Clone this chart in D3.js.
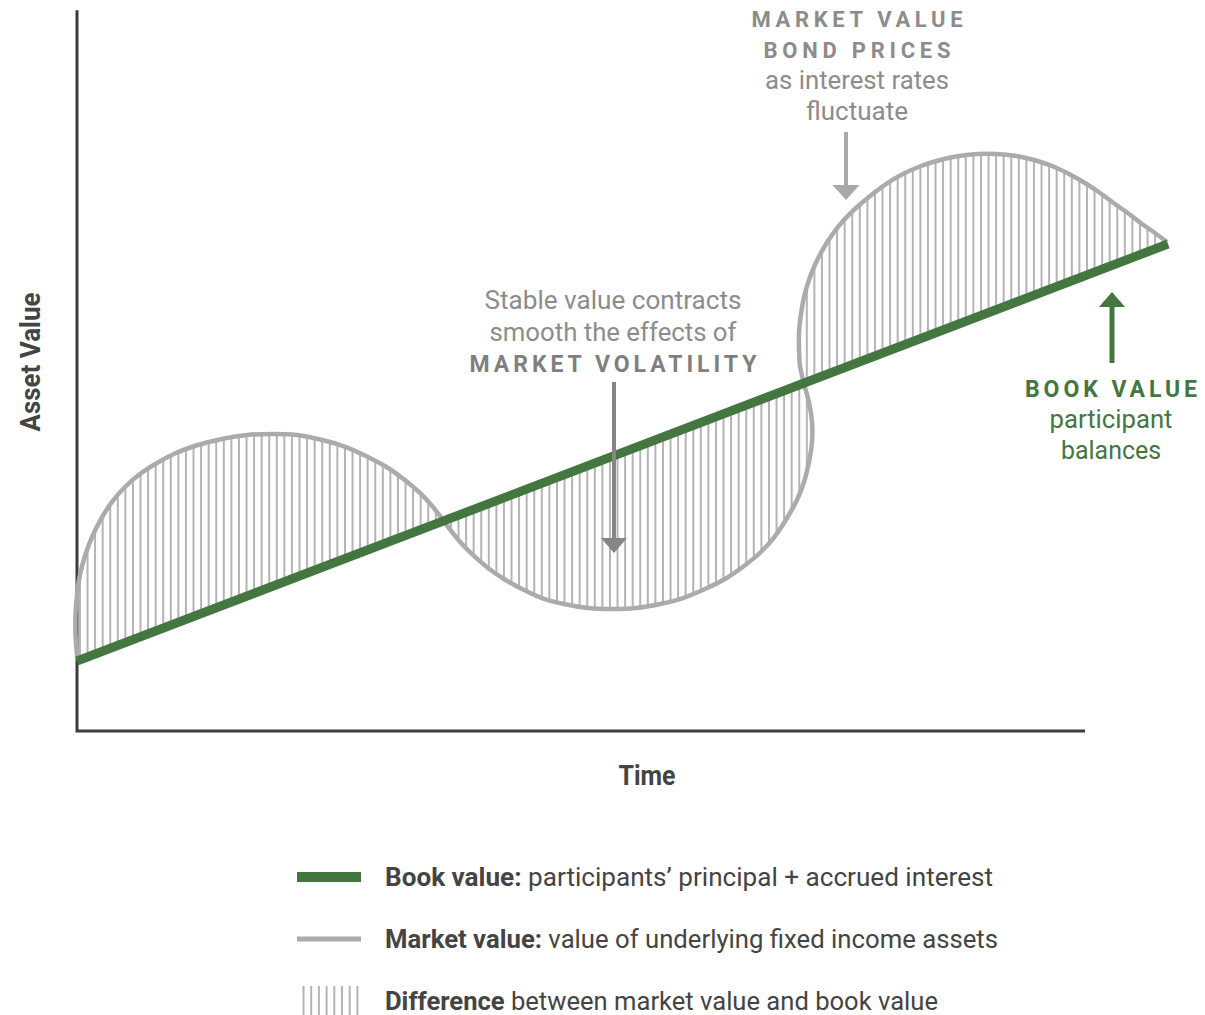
<!DOCTYPE html>
<html>
<head>
<meta charset="utf-8">
<script src="https://cdn.jsdelivr.net/npm/d3@7"></script>
<style>
  html, body { margin: 0; padding: 0; background: #fff; }
  svg { display: block; }
  text { font-family: Roboto, "Liberation Sans", sans-serif; }
</style>
</head>
<body>
<svg id="chart" width="1205" height="1015"></svg>
<script>
// Book value: straight accrual line [time, value]
const bookValue = [[0, 9.72], [100, 67.64]];

// Market value: path of the underlying bond portfolio [time, value]
const marketValue = [
  [0.05, 9.86], [-0.14, 13.33], [-0.14, 16.11], [0.0, 18.89], [0.27, 21.67], [0.73, 24.31],
  [1.37, 26.94], [2.20, 29.44], [3.21, 31.81], [4.40, 33.89], [5.77, 35.69], [7.33, 37.22],
  [9.07, 38.61], [11.09, 39.72], [13.29, 40.56], [15.58, 41.11], [17.87, 41.25], [20.17, 41.11],
  [22.46, 40.42], [24.66, 39.44], [26.67, 38.06], [28.51, 36.53], [30.16, 34.72], [31.53, 32.92],
  [32.63, 31.11], [33.55, 29.31], [34.37, 27.64], [35.29, 25.97], [36.39, 24.31], [37.67, 22.64],
  [39.14, 21.11], [40.79, 19.72], [42.62, 18.47], [44.64, 17.64], [46.84, 17.08], [49.04, 16.94],
  [51.24, 17.08], [53.44, 17.64], [55.55, 18.47], [57.56, 19.72], [59.39, 21.11], [61.14, 22.92],
  [62.69, 24.86], [63.98, 27.08], [65.08, 29.58], [65.99, 32.08], [66.64, 34.58], [67.09, 37.36],
  [67.37, 40.14], [67.37, 42.92], [67.09, 45.69], [66.64, 48.19], [66.27, 50.69], [66.18, 53.06],
  [66.18, 55.42], [66.36, 57.92], [66.64, 60.28], [67.09, 62.64], [67.64, 64.72], [68.38, 66.94],
  [69.20, 68.89], [70.21, 70.83], [71.40, 72.64], [72.69, 74.31], [74.15, 75.97], [75.71, 77.36],
  [77.36, 78.47], [79.10, 79.31], [80.84, 79.86], [82.58, 80.14], [84.33, 80.14], [86.07, 79.86],
  [87.72, 79.31], [89.37, 78.47], [90.93, 77.36], [92.39, 76.11], [93.77, 74.72], [95.14, 73.19],
  [96.43, 71.81], [97.62, 70.42], [98.81, 69.17], [99.91, 67.92]
];

// Hatch spacing for the difference area (time units)
const hatchStart = 0.27, hatchStep = 0.694;
// Extent of the drawn time axis
const timeAxisEnd = 92.4;

const axisLabels = { x: "Time", y: "Asset Value" };
const legendItems = [
  { key: "book", bold: "Book value:", rest: " participants\u2019 principal + accrued interest", width: 608 },
  { key: "market", bold: "Market value:", rest: " value of underlying fixed income assets", width: 613 },
  { key: "diff", bold: "Difference", rest: " between market value and book value", width: 553 }
];

const GREEN = "#44763f", GREY = "#ababab", HATCH = "#b4b4b4", DARK = "#444444";

const svg = d3.select("#chart");
const x = d3.scaleLinear().domain([0, 100]).range([77, 1168]);
const y = d3.scaleLinear().domain([0, 100]).range([731, 11]);

const marketLine = d3.line().x(d => x(d[0])).y(d => y(d[1])).curve(d3.curveCatmullRom.alpha(0.5));
const bookLine = d3.line().x(d => x(d[0])).y(d => y(d[1]));

// Region between the two series, used to clip the hatching
const b0 = bookValue[0], b1 = bookValue[bookValue.length - 1];
const diffPath = marketLine(marketValue) + `L${x(b1[0])},${y(b1[1])}L${x(b0[0])},${y(b0[1])}Z`;
svg.append("defs").append("clipPath").attr("id", "diffClip")
  .append("path").attr("d", diffPath);

svg.append("g").attr("clip-path", "url(#diffClip)")
  .selectAll("line").data(d3.range(hatchStart, 100, hatchStep)).join("line")
  .attr("x1", d => x(d)).attr("x2", d => x(d))
  .attr("y1", y(0)).attr("y2", y(100))
  .attr("stroke", HATCH).attr("stroke-width", 2);

// Axes
svg.append("path")
  .attr("d", `M${x(0)},${y(100.1)}V${y(0)}H${x(timeAxisEnd)}`)
  .attr("fill", "none").attr("stroke", "#3d3d3d").attr("stroke-width", 3);

svg.append("path").attr("d", marketLine(marketValue))
  .attr("fill", "none").attr("stroke", GREY).attr("stroke-width", 4.5);

svg.append("path").attr("d", bookLine(bookValue))
  .attr("fill", "none").attr("stroke", GREEN).attr("stroke-width", 9);

// Axis titles
svg.append("text")
  .attr("x", 647).attr("y", 785).attr("text-anchor", "middle")
  .attr("font-size", 27).attr("font-weight", "bold").attr("fill", DARK)
  .attr("textLength", 57).attr("lengthAdjust", "spacingAndGlyphs")
  .text(axisLabels.x);
svg.append("text")
  .attr("transform", "translate(40,362) rotate(-90)").attr("text-anchor", "middle")
  .attr("font-size", 27).attr("font-weight", "bold").attr("fill", DARK)
  .attr("textLength", 139).attr("lengthAdjust", "spacingAndGlyphs")
  .text(axisLabels.y);

// Annotation arrows and labels
function arrow(xp, yTail, yTip, color, headW, headH, width) {
  const dir = yTip > yTail ? 1 : -1;
  const headBase = yTip - dir * headH;
  const g = svg.append("g");
  g.append("line").attr("x1", xp).attr("x2", xp)
    .attr("y1", yTail).attr("y2", headBase + dir)
    .attr("stroke", color).attr("stroke-width", width);
  g.append("path")
    .attr("d", `M${xp - headW / 2},${headBase}L${xp + headW / 2},${headBase}L${xp},${yTip}Z`)
    .attr("fill", color);
}
function label(lines, cx, y0, dy, color) {
  lines.forEach((l, i) => {
    svg.append("text")
      .attr("x", cx).attr("y", y0 + i * dy).attr("text-anchor", "middle")
      .attr("fill", l.color || color).attr("font-size", l.size)
      .attr("font-weight", l.caps ? "bold" : "normal")
      .attr("textLength", l.len)
      .attr("lengthAdjust", l.caps ? "spacing" : "spacingAndGlyphs")
      .text(l.text);
  });
}

label([
  { text: "MARKET VALUE", caps: true, size: 22, len: 211 },
  { text: "BOND PRICES", caps: true, size: 22, len: 187 },
  { text: "as interest rates", size: 25, len: 184 },
  { text: "fluctuate", size: 25, len: 102 }
], 857, 27, 31, "#8c8c8c");
arrow(846, 132, 200, "#a9a9a9", 27, 15, 4);

label([
  { text: "Stable value contracts", size: 25, len: 257 },
  { text: "smooth the effects of", size: 25, len: 247 },
  { text: "MARKET VOLATILITY", caps: true, size: 23, len: 287, color: "#7f7f7f" }
], 613, 309, 31.5, "#8c8c8c");
arrow(614, 382, 553, "#858585", 26, 15, 4);

label([
  { text: "BOOK VALUE", caps: true, size: 23, len: 172 },
  { text: "participant", size: 25, len: 123 },
  { text: "balances", size: 25, len: 100 }
], 1111, 397, 31, GREEN);
arrow(1112, 363, 292, GREEN, 26, 15, 5);

// Legend
const leg = svg.append("g");
const legY = [877, 939, 1001];
leg.append("line").attr("x1", 297).attr("x2", 361).attr("y1", legY[0]).attr("y2", legY[0])
  .attr("stroke", GREEN).attr("stroke-width", 10);
leg.append("line").attr("x1", 297).attr("x2", 361).attr("y1", legY[1]).attr("y2", legY[1])
  .attr("stroke", GREY).attr("stroke-width", 5);
leg.selectAll("line.h").data(d3.range(8)).join("line").attr("class", "h")
  .attr("x1", d => 303.5 + d * 7.7).attr("x2", d => 303.5 + d * 7.7)
  .attr("y1", 986).attr("y2", 1015)
  .attr("stroke", HATCH).attr("stroke-width", 2);

legendItems.forEach((it, i) => {
  const t = leg.append("text")
    .attr("x", 385).attr("y", legY[i] + 9).attr("font-size", 26).attr("fill", DARK)
    .attr("textLength", it.width).attr("lengthAdjust", "spacingAndGlyphs");
  t.append("tspan").attr("font-weight", "bold").text(it.bold);
  t.append("tspan").text(it.rest);
});
</script>
</body>
</html>
